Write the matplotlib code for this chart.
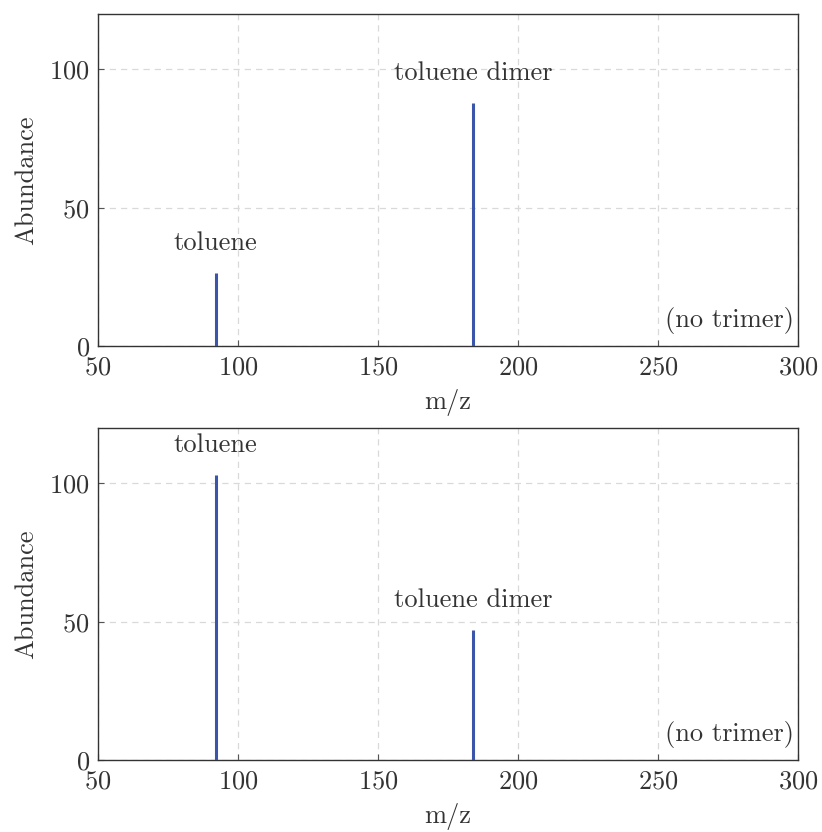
import matplotlib
matplotlib.use("Agg")
import matplotlib.pyplot as plt

plt.rcParams.update({
    "font.family": "cmr10",
    "axes.formatter.use_mathtext": True,
    "font.size": 19,
    "axes.edgecolor": "#333333",
    "axes.linewidth": 1.0,
})

# m/z positions and abundances for the two spectra
mz = [92, 184]
abund_top = [26.5, 88.0]
abund_bottom = [103.0, 47.0]
peak_labels = ["toluene", "toluene dimer"]
note = "(no trimer)"

xticks = [50, 100, 150, 200, 250, 300]
yticks = [0, 50, 100]

BLUE = "#3a55a9"
TEXT = "#333333"
FS = 19

fig = plt.figure(figsize=(8.22, 8.32), dpi=100)
axes = [
    fig.add_axes([0.1192, 0.5841, 0.8516, 0.399]),
    fig.add_axes([0.1192, 0.0865, 0.8516, 0.399]),
]

for ax, ab in zip(axes, [abund_top, abund_bottom]):
    ax.vlines(mz, 0, ab, color=BLUE, linewidth=2.2, zorder=3)
    for x, y, lab in zip(mz, ab, peak_labels):
        ax.annotate(lab, (x, y), xytext=(0, 13), textcoords="offset points",
                    ha="center", va="bottom", color=TEXT, fontsize=FS)
    ax.text(0.994, 0.035, note, transform=ax.transAxes, ha="right",
            va="bottom", color=TEXT, fontsize=FS)
    ax.set_xlim(50, 300)
    ax.set_ylim(0, 120)
    ax.set_xticks(xticks)
    ax.set_yticks(yticks)
    ax.grid(True, color="#d9d9d9", linestyle=(0, (5, 4)), linewidth=0.9)
    ax.set_axisbelow(True)
    ax.tick_params(direction="in", length=4, width=0.8, color="#555555",
                   labelcolor=TEXT, labelsize=FS)
    ax.tick_params(axis="x", pad=7)
    ax.tick_params(axis="y", pad=6)
    ax.set_xlabel("m/z", color=TEXT, fontsize=FS, labelpad=7)
    ax.set_ylabel("Abundance", color=TEXT, fontsize=FS, labelpad=8)

fig.savefig("out.png", dpi=100, facecolor="white")
